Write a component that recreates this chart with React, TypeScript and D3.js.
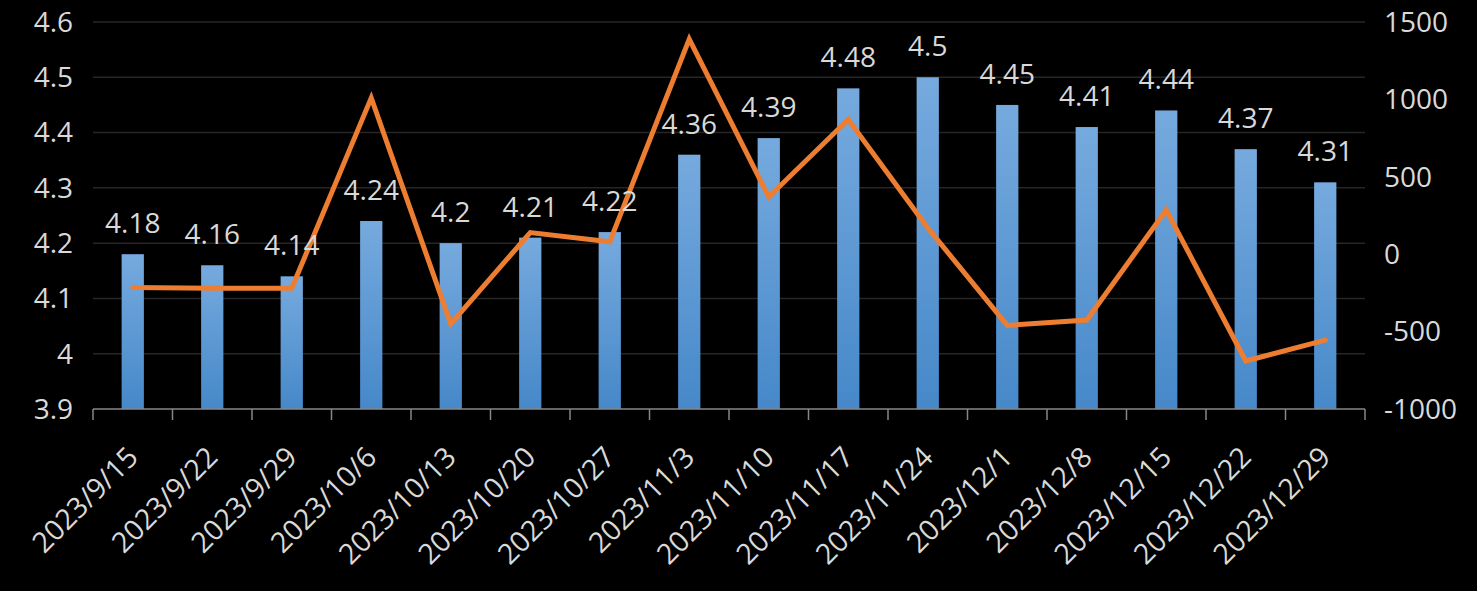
import React, { useEffect } from "react";
import * as d3 from "d3";

const categories = [
  "2023/9/15", "2023/9/22", "2023/9/29", "2023/10/6", "2023/10/13", "2023/10/20",
  "2023/10/27", "2023/11/3", "2023/11/10", "2023/11/17", "2023/11/24", "2023/12/1",
  "2023/12/8", "2023/12/15", "2023/12/22", "2023/12/29",
];
const rateValues = [4.18, 4.16, 4.14, 4.24, 4.2, 4.21, 4.22, 4.36, 4.39, 4.48, 4.5, 4.45, 4.41, 4.44, 4.37, 4.31];
const flowValues = [-215, -220, -220, 1010, -450, 140, 80, 1390, 370, 870, 170, -460, -425, 285, -690, -555];
const leftTicks = [3.9, 4, 4.1, 4.2, 4.3, 4.4, 4.5, 4.6];
const rightTicks = [-1000, -500, 0, 500, 1000, 1500];

const W = 1477;
const H = 591;
const M = { left: 93, right: 1365, top: 22, bottom: 409 };
const FONT = "'Open Sans', 'Noto Sans', sans-serif";
const TEXT = "#d9d9d9";

export default function App() {
  useEffect(() => {
    document.body.style.margin = "0";
    document.body.style.background = "#000";
  }, []);

  const x = d3.scaleBand<string>().domain(categories).range([M.left, M.right]).padding(0);
  const yL = d3.scaleLinear().domain([3.9, 4.6]).range([M.bottom, M.top]);
  const yR = d3.scaleLinear().domain([-1000, 1500]).range([M.bottom, M.top]);
  const bw = x.bandwidth() * 0.28;
  const cx = (c: string) => (x(c) as number) + x.bandwidth() / 2;

  const line = d3
    .line<number>()
    .x((_, i) => cx(categories[i]))
    .y((d) => yR(d));

  const edges = categories.map((c) => x(c) as number).concat([M.right]);

  return (
    <svg width={W} height={H} style={{ position: "absolute", left: 0, top: 0, background: "#000" }}>
      <defs>
        <linearGradient id="barGrad" x1="0" y1="0" x2="0" y2="1">
          <stop offset="0%" stopColor="#76aade" />
          <stop offset="100%" stopColor="#4688c9" />
        </linearGradient>
      </defs>
      <rect x={0} y={0} width={W} height={H} fill="#000" />
      {leftTicks.slice(1).map((t) => (
        <line key={t} x1={M.left} x2={M.right} y1={yL(t)} y2={yL(t)} stroke="#262626" strokeWidth={1.5} />
      ))}
      {leftTicks.map((t) => (
        <text key={t} x={73} y={yL(t)} dy="0.35em" textAnchor="end" fill={TEXT} fontFamily={FONT} fontSize={28}>
          {String(t)}
        </text>
      ))}
      {rightTicks.map((t) => (
        <text key={t} x={1384} y={yR(t)} dy="0.35em" textAnchor="start" fill={TEXT} fontFamily={FONT} fontSize={28}>
          {String(t)}
        </text>
      ))}
      {categories.map((c, i) => (
        <rect
          key={c}
          x={cx(c) - bw / 2}
          y={yL(rateValues[i])}
          width={bw}
          height={M.bottom - yL(rateValues[i])}
          fill="url(#barGrad)"
        />
      ))}
      <line x1={M.left} x2={M.right} y1={M.bottom} y2={M.bottom} stroke="#878787" strokeWidth={1.5} />
      {edges.map((e, i) => (
        <line key={i} x1={e} x2={e} y1={M.bottom} y2={M.bottom + 11} stroke="#878787" strokeWidth={1.5} />
      ))}
      <path
        d={line(flowValues) || ""}
        fill="none"
        stroke="#ed7d31"
        strokeWidth={5}
        strokeLinecap="round"
        strokeLinejoin="miter"
      />
      {categories.map((c, i) => (
        <text
          key={c}
          x={cx(c)}
          y={yL(rateValues[i]) - 21}
          textAnchor="middle"
          fill={TEXT}
          fontFamily={FONT}
          fontSize={28}
        >
          {String(rateValues[i])}
        </text>
      ))}
      {categories.map((c) => (
        <text
          key={c}
          transform={`translate(${cx(c) + 7},${459}) rotate(-45)`}
          textAnchor="end"
          fill={TEXT}
          fontFamily={FONT}
          fontSize={28.5}
        >
          {c}
        </text>
      ))}
    </svg>
  );
}
